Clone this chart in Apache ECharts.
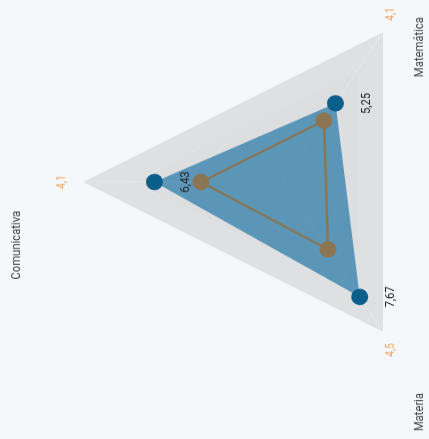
<!DOCTYPE html>
<html>
<head>
<meta charset="utf-8">
<script src="https://cdn.jsdelivr.net/npm/echarts@6/dist/echarts.min.js"></script>
<style>
  html, body { margin: 0; padding: 0; width: 429px; height: 439px; overflow: hidden; background: #f4f8fb; }
  /* chart is drawn upright, then turned a quarter to the left like the screenshot */
  #chart {
    position: absolute; left: 0; top: 0;
    width: 520px; height: 429px;
    transform-origin: 0 0;
    transform: translate(0px, 441.5px) rotate(-90deg) scale(0.865, 1);
  }
</style>
</head>
<body>
<div id="chart"></div>
<script>
// datos
var indicators = ['Comunicativa', 'Materia', 'Matemática'];
var maxValue = 10;
var blueValues = [6.43, 7.67, 5.25];
var brownValues = [4.1, 4.5, 4.1];

function comma(v) {
    return String(v).replace('.', ',');
}

var chart = echarts.init(document.getElementById('chart'));

var nameStyle = { align: 'center', verticalAlign: 'middle', fill: '#444', font: '13px Roboto' };

var option = {
    backgroundColor: 'transparent',
    animation: false,
    radar: {
        center: [300, 283],
        radius: 200,
        startAngle: 90,
        splitNumber: 4,
        indicator: indicators.map(function (n) { return { name: n, max: maxValue }; }),
        axisName: {
            formatter: function (name) {
                return comma(brownValues[indicators.indexOf(name)]);
            },
            color: '#f2a55a',
            fontSize: 12,
            fontFamily: 'Roboto'
        },
        nameGap: 15,
        splitArea: {
            areaStyle: { color: ['#dadcde', '#dbdddf', '#dcdee0', '#dee0e2'] }
        },
        splitLine: { show: false },
        axisLine: { lineStyle: { color: 'rgba(255,255,255,0.2)', width: 1.5 } }
    },
    graphic: [
        { type: 'text', x: 227, y: 17, style: Object.assign({ text: indicators[0] }, nameStyle) },
        { type: 'text', x: 34, y: 420, style: Object.assign({ text: indicators[1] }, nameStyle) },
        { type: 'text', x: 456, y: 420, style: Object.assign({ text: indicators[2] }, nameStyle) }
    ],
    series: [
        {
            type: 'radar',
            symbol: 'circle',
            symbolSize: [19, 17],
            itemStyle: { color: '#0c5e8b' },
            lineStyle: { width: 0, opacity: 0 },
            areaStyle: { color: '#2a7aa8', opacity: 0.72 },
            label: {
                show: true,
                position: 'bottom',
                distance: 16,
                color: '#222',
                fontSize: 13,
                fontFamily: 'Roboto',
                formatter: function (p) { return comma(p.value); }
            },
            data: [{ value: blueValues }]
        },
        {
            type: 'radar',
            symbol: 'circle',
            symbolSize: [19, 17],
            itemStyle: { color: '#8c7552' },
            lineStyle: { color: '#877657', width: 2.5 },
            data: [{ value: brownValues }]
        }
    ]
};

chart.setOption(option);
</script>
</body>
</html>
